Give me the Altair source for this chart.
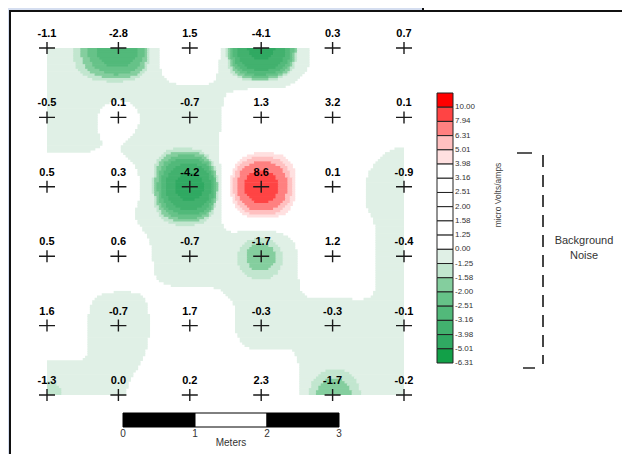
import numpy as np
import pandas as pd
import altair as alt

# ---- data ----
values = [
    [-1.1, -2.8, 1.5, -4.1, 0.3, 0.7],
    [-0.5, 0.1, -0.7, 1.3, 3.2, 0.1],
    [0.5, 0.3, -4.2, 8.6, 0.1, -0.9],
    [0.5, 0.6, -0.7, -1.7, 1.2, -0.4],
    [1.6, -0.7, 1.7, -0.3, -0.3, -0.1],
    [-1.3, 0.0, 0.2, 2.3, -1.7, -0.2],
]
legend_labels = ["10.00", "7.94", "6.31", "5.01", "3.98", "3.16", "2.51", "2.00", "1.58",
                 "1.25", "0.00", "-1.25", "-1.58", "-2.00", "-2.51", "-3.16", "-3.98",
                 "-5.01", "-6.31"]
legend_colors = ["#FF0000", "#FF4444", "#FF8080", "#FFC0C0", "#FFE0E0", "#FFFFFF", "#FFFFFF",
                 "#FFFFFF", "#FFFFFF", "#FFFFFF", "#FFFFFF", "#E0F0E6", "#C2E6CF", "#84CE9E",
                 "#66C288", "#52B97A", "#42B16E", "#30A962", "#12A048"]
scale_ticks = [0, 1, 2, 3]

# ---- measurement points ----
pts, vals, labs = [], [], []
for r, row in enumerate(values):
    for c, v in enumerate(row):
        pts.append((c, r))
        vals.append(v)
        labs.append(f"{v:.1f}")
pts = np.array(pts, float)
vals = np.array(vals, float)
points_df = pd.DataFrame({"c": pts[:, 0], "r": pts[:, 1], "label": labs})

# ---- surface: inverse-distance weighting of the measurements ----
POWER = 3.2
n = 150
dx = 5.0 / n
cc = (np.arange(n) + 0.5) * dx
GX, GY = np.meshgrid(cc, cc)
G = np.stack([GX.ravel(), GY.ravel()], 1)
d = np.sqrt(((G[:, None, :] - pts[None, :, :]) ** 2).sum(-1))
wts = 1.0 / np.maximum(d, 1e-6) ** POWER
F = ((wts @ vals) / wts.sum(1)).reshape(n, n)

# colour classes: each legend box runs from its label up to the label above it
lb = sorted(float(s) for s in legend_labels)
col_asc = list(reversed(legend_colors))
cls = np.clip(np.searchsorted(lb, F, side="right") - 1, 0, len(lb) - 1)

cells = []
for j in range(n):
    i = 0
    while i < n:
        k = cls[j, i]
        s = i
        while i < n and cls[j, i] == k:
            i += 1
        if col_asc[k] != "#FFFFFF":
            cells.append({"x": s * dx, "x2": min(5.0, i * dx + 0.3 * dx),
                          "y": j * dx, "y2": min(5.0, (j + 1) * dx + 0.3 * dx),
                          "v": lb[k]})
cells_df = pd.DataFrame(cells)

XS = alt.Scale(domain=[0, 5], range=[39, 396])
YS = alt.Scale(domain=[0, 5], range=[40, 387])
color_scale = alt.Scale(type="threshold", domain=lb[1:], range=col_asc)

surface = alt.Chart(cells_df).mark_rect(strokeWidth=0).encode(
    x=alt.X("x:Q", scale=XS, axis=None), x2="x2:Q",
    y=alt.Y("y:Q", scale=YS, axis=None), y2="y2:Q",
    color=alt.Color("v:Q", scale=color_scale, legend=None),
)

crosses = alt.Chart(points_df).mark_point(
    shape="M-1,0L1,0M0,-0.75L0,0.75", size=256, filled=False,
    stroke="#1a1a1a", strokeWidth=1.4, opacity=1,
).encode(x=alt.X("c:Q", scale=XS, axis=None), y=alt.Y("r:Q", scale=YS, axis=None))

texts = alt.Chart(points_df).mark_text(
    font="Liberation Sans", fontWeight="bold", fontSize=11, dy=-11,
    baseline="alphabetic", align="center", color="#000000",
).encode(x=alt.X("c:Q", scale=XS, axis=None), y=alt.Y("r:Q", scale=YS, axis=None),
         text="label:N")

# ---- scale bar ----
bar_df = pd.DataFrame({"a": scale_ticks[:-1], "b": scale_ticks[1:],
                       "fill": ["#000000", "#FFFFFF", "#000000"]})
BS = alt.Scale(domain=[0, 3], range=[115, 331])
bar = alt.Chart(bar_df).mark_rect(stroke="#000000", strokeWidth=1).encode(
    x=alt.X("a:Q", scale=BS, axis=None), x2="b:Q",
    y=alt.value(405), y2=alt.value(419),
    color=alt.Color("fill:N", scale=None, legend=None),
)
bar_ticks = alt.Chart(pd.DataFrame({"t": scale_ticks})).mark_text(
    font="Liberation Sans", fontSize=10, color="#333333", baseline="middle",
).encode(x=alt.X("t:Q", scale=BS, axis=None), y=alt.value(426), text="t:N")
bar_title = alt.Chart(pd.DataFrame({"t": [1.5], "s": ["Meters"]})).mark_text(
    font="Liberation Sans", fontSize=10, color="#333333", baseline="middle",
).encode(x=alt.X("t:Q", scale=BS, axis=None), y=alt.value(435), text="s:N")

# ---- legend ----
leg_df = pd.DataFrame({"i": np.arange(len(legend_labels)), "label": legend_labels,
                       "fill": legend_colors})
leg_df["i2"] = leg_df["i"] + 1
LS = alt.Scale(domain=[0, len(legend_labels)], range=[85, 355])
leg_boxes = alt.Chart(leg_df).mark_rect(stroke="#222222", strokeWidth=1).encode(
    y=alt.Y("i:Q", scale=LS, axis=None), y2="i2:Q",
    x=alt.value(429), x2=alt.value(445),
    color=alt.Color("fill:N", scale=None, legend=None),
)
leg_text = alt.Chart(leg_df).mark_text(
    font="Liberation Sans", fontSize=8, color="#333333", align="left", baseline="middle",
).encode(y=alt.Y("i2:Q", scale=LS, axis=None), x=alt.value(447), text="label:N")
leg_title = alt.Chart(pd.DataFrame({"s": ["micro Volts/amps"]})).mark_text(
    font="Liberation Sans", fontSize=8.5, color="#444444", angle=270, baseline="middle",
).encode(x=alt.value(490), y=alt.value(187), text="s:N")

# ---- background-noise bracket ----
b_top = alt.Chart(pd.DataFrame({"k": [0]})).mark_rule(color="#222222", strokeWidth=1.5).encode(
    x=alt.value(509), x2=alt.value(524), y=alt.value(145))
b_bot = alt.Chart(pd.DataFrame({"k": [0]})).mark_rule(color="#222222", strokeWidth=1.5).encode(
    x=alt.value(515), x2=alt.value(527), y=alt.value(360))
b_dash = alt.Chart(pd.DataFrame({"k": [0]})).mark_rule(
    color="#444444", strokeWidth=2, strokeDash=[12, 8]).encode(
    x=alt.value(535), y=alt.value(147), y2=alt.value(356))
noise = alt.Chart(pd.DataFrame({"s": ["Background", "Noise"], "dy": [0, 15]})).mark_text(
    font="Liberation Sans", fontSize=11, color="#333333", baseline="middle", align="center",
).encode(x=alt.value(576), y=alt.Y("dy:Q", scale=alt.Scale(domain=[0, 15], range=[233, 248]),
                                   axis=None), text="s:N")

# ---- page frame ----
one = pd.DataFrame({"k": [0]})
blue_top = alt.Chart(one).mark_rect(color="#D5DEF0").encode(
    x=alt.value(0), x2=alt.value(414), y=alt.value(0), y2=alt.value(2))
blue_left = alt.Chart(one).mark_rect(color="#D5DEF0").encode(
    x=alt.value(0), x2=alt.value(1), y=alt.value(0), y2=alt.value(446))
f_top = alt.Chart(one).mark_rule(color="#111111", strokeWidth=2).encode(
    x=alt.value(1), x2=alt.value(614), y=alt.value(3))
f_left = alt.Chart(one).mark_rule(color="#111111", strokeWidth=2).encode(
    x=alt.value(2), y=alt.value(3), y2=alt.value(446))
f_stub = alt.Chart(one).mark_rule(color="#111111", strokeWidth=2).encode(
    x=alt.value(415), y=alt.value(0), y2=alt.value(3))

chart = alt.layer(
    blue_top, blue_left, f_top, f_left, f_stub,
    surface, crosses, texts, bar, bar_ticks, bar_title,
    leg_boxes, leg_text, leg_title, b_top, b_bot, b_dash, noise,
).resolve_scale(x="independent", y="independent", color="independent").properties(
    width=614, height=446, padding=0, autosize="none", background="#FFFFFF",
).configure_view(strokeWidth=0)

chart.save("out.html", embed_options={"renderer": "svg", "actions": False})
